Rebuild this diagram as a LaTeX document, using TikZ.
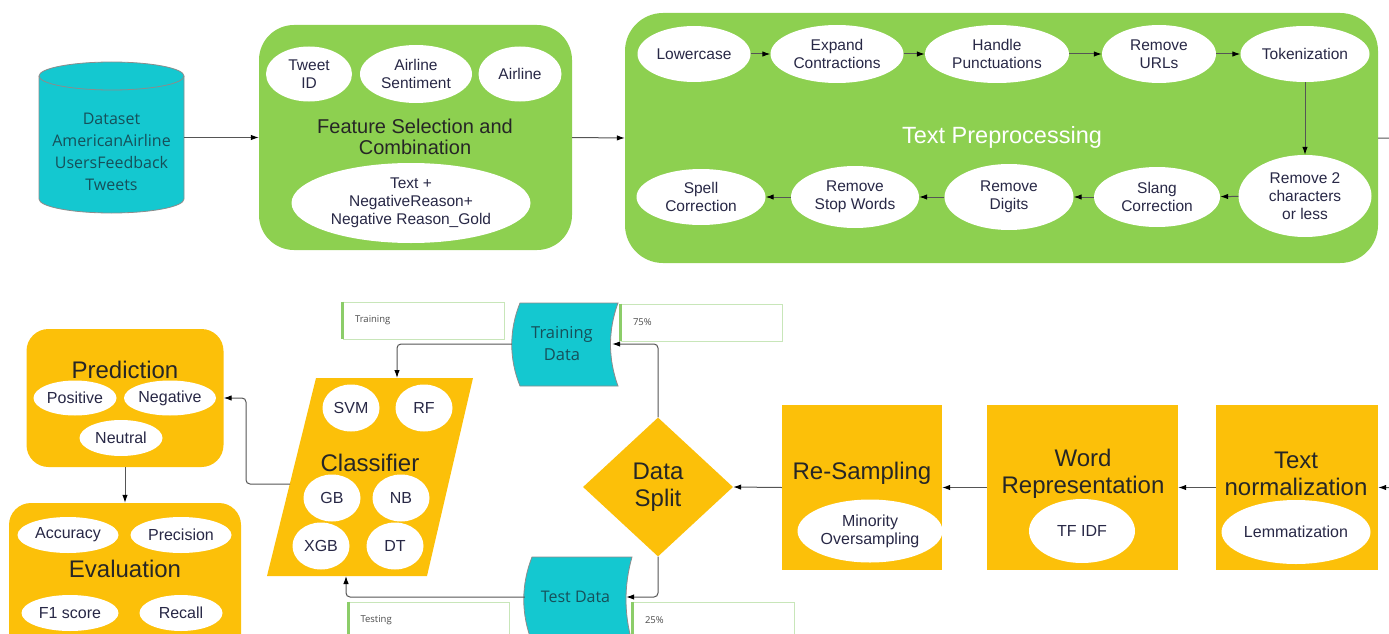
\documentclass[tikz,border=0pt]{standalone}
\usepackage{fontspec}
\setmainfont{Liberation Sans}
\newfontfamily\opensans{Open Sans}
\usetikzlibrary{shapes.geometric}
\usetikzlibrary{arrows.meta}
\definecolor{fgreen}{RGB}{141,208,80}
\definecolor{forange}{RGB}{252,192,9}
\definecolor{fcyan}{RGB}{20,200,208}
\definecolor{fteal}{RGB}{22,80,90}
\definecolor{fnavy}{RGB}{40,40,70}
\definecolor{fline}{RGB}{85,85,85}
\definecolor{fnote}{RGB}{200,230,185}
\definecolor{fbar}{RGB}{140,205,105}
\tikzset{
  oval/.style={ellipse, fill=white, inner sep=0pt, align=center, text=fnavy,
    font=\fontsize{15.5}{18}\selectfont},
  bigoval/.style={oval, font=\fontsize{16}{18}\selectfont},
  panel/.style={rounded corners=#1, inner sep=0pt},
  block/.style={fill=forange, inner sep=0pt, minimum height=165pt},
  title/.style={align=center, text=black!85, font=\fontsize{24}{27}\selectfont},
  dbtext/.style={align=center, text=fteal, inner sep=0pt, font=\opensans\fontsize{16}{22}\selectfont},
  dbline/.style={draw=black!45, line width=0.8pt},
  note/.style={draw=fnote, fill=white, line width=0.8pt, text width=137pt, inner xsep=12pt,
    minimum height=37pt, align=left, text=black!70, font=\opensans\fontsize{9.5}{11}\selectfont},
  notebar/.style={draw=fbar, line width=3pt},
  flow/.style={draw=fline, line width=1pt, rounded corners=4pt,
    -{Latex[length=8pt,width=5.5pt,color=black]}}
}

\begin{document}
\begin{tikzpicture}[x=1pt,y=-1pt]
  \useasboundingbox (0,0) rectangle (1389,634);

  \fill[fcyan] (39,76) -- (39,199) arc[start angle=180, end angle=0, x radius=72.5, y radius=14]
    -- (184,76) arc[start angle=0, end angle=-180, x radius=72.5, y radius=14] -- cycle;
  \draw[dbline] (39,76) -- (39,199) arc[start angle=180, end angle=0, x radius=72.5, y radius=14]
    -- (184,76) arc[start angle=0, end angle=-180, x radius=72.5, y radius=14];
  \draw[dbline] (39,76) arc[start angle=180, end angle=0, x radius=72.5, y radius=14];
  \node[minimum width=145pt, minimum height=151pt, inner sep=0pt] (data) at (111.5,137.5) {};
  \node[dbtext] (datalbl) at (111.5,151.5) {Dataset\\AmericanAirline\\UsersFeedback\\Tweets};

  \node[panel=35pt, fill=fgreen, minimum width=313pt, minimum height=225pt] (feat) at (415.5,137.5) {};
  \node[oval, minimum width=86pt, minimum height=55pt] (tweetid) at (309,74) {Tweet\\ID};
  \node[oval, minimum width=112pt, minimum height=58pt] (sentiment) at (416,74) {Airline\\Sentiment};
  \node[oval, minimum width=83pt, minimum height=55pt] (airline) at (520,74) {Airline};
  \node[align=center, text=black!85, font=\fontsize{20}{20.5}\selectfont] (feattitle) at (415,137)
    {Feature Selection and\\Combination};
  \node[oval, minimum width=239pt, minimum height=80pt] (combo) at (411,203)
    {Text +\\NegativeReason+\\Negative Reason\_Gold};

  \node[panel=38pt, fill=fgreen, minimum width=753pt, minimum height=250pt] (tp) at (1001.5,138) {};
  \node[text=white, font=\fontsize{23.5}{26}\selectfont] (tptitle) at (1002,137) {Text Preprocessing};
  \node[oval, minimum width=113pt, minimum height=56pt] (lower) at (694,54) {Lowercase};
  \node[oval, minimum width=133pt, minimum height=58pt] (expand) at (837,54) {Expand\\Contractions};
  \node[oval, minimum width=144pt, minimum height=58pt] (punct) at (997,54) {Handle\\Punctuations};
  \node[oval, minimum width=114pt, minimum height=58pt] (urls) at (1159,54) {Remove\\URLs};
  \node[oval, minimum width=129pt, minimum height=56pt] (token) at (1305,54) {Tokenization};
  \node[oval, minimum width=133pt, minimum height=82pt] (rem2) at (1305,196) {Remove 2\\characters\\or less};
  \node[oval, minimum width=126pt, minimum height=60pt] (slang) at (1157,197) {Slang\\Correction};
  \node[oval, minimum width=129pt, minimum height=66pt] (digits) at (1009,197) {Remove\\Digits};
  \node[oval, minimum width=128pt, minimum height=62pt] (stop) at (855,197) {Remove\\Stop Words};
  \node[oval, minimum width=129pt, minimum height=56pt] (spell) at (701,197) {Spell\\Correction};

  \node[block, minimum width=162pt] (norm) at (1297,487.5) {};
  \node[title] (normtitle) at (1296,473.5) {Text\\normalization};
  \node[bigoval, minimum width=149pt, minimum height=64pt] (lemma) at (1296,532) {Lemmatization};
  \node[block, minimum width=191pt] (word) at (1082.5,487.5) {};
  \node[title] (wordtitle) at (1083,473.5) {Word\\Representation};
  \node[bigoval, minimum width=106pt, minimum height=64pt] (tfidf) at (1082,531) {TF IDF};
  \node[block, minimum width=160pt] (resamp) at (862,487.5) {};
  \node[title] (resamptitle) at (862,473) {Re-Sampling};
  \node[bigoval, minimum width=145pt, minimum height=63pt] (minority) at (870,531) {Minority\\Oversampling};

  \node[diamond, fill=forange, aspect=1.08, inner sep=0pt, minimum width=150pt, minimum height=139pt,
    title] (split) at (658,487) {Data\\Split};

  \fill[fcyan] (520,303) -- (618,303) .. controls (608,330) and (608,359) .. (618,386)
    -- (520,386) .. controls (509,359) and (509,330) .. (520,303) -- cycle;
  \draw[dbline] (520,303) -- (618,303) .. controls (608,330) and (608,359) .. (618,386)
    -- (520,386) .. controls (509,359) and (509,330) .. (520,303) -- cycle;
  \node[dbtext, minimum width=100pt, minimum height=83pt, font=\opensans\fontsize{16.5}{22}\selectfont]
    (train) at (562,344) {Training\\Data};
  \fill[fcyan] (532,557) -- (632,557) .. controls (624,585) and (624,614) .. (632,642)
    -- (532,642) .. controls (521,614) and (521,585) .. (532,557) -- cycle;
  \draw[dbline] (532,557) -- (632,557) .. controls (624,585) and (624,614) .. (632,642)
    -- (532,642) .. controls (521,614) and (521,585) .. (532,557) -- cycle;
  \node[dbtext, minimum width=101pt, minimum height=40pt] (test) at (575.5,597) {Test Data};

  \node[note] (ntrain) at (423.5,320.5) {Training};
  \draw[notebar] (ntrain.north west) -- (ntrain.south west);
  \node[note] (n75) at (701.5,322.5) {75\%};
  \draw[notebar] (n75.north west) -- (n75.south west);
  \node[note] (ntest) at (429,620.5) {Testing};
  \draw[notebar] (ntest.north west) -- (ntest.south west);
  \node[note] (n25) at (713.5,620.5) {25\%};
  \draw[notebar] (n25.north west) -- (n25.south west);

  \fill[forange] (316,378) -- (473,378) -- (427,576) -- (267,576) -- cycle;
  \coordinate (clfin) at (397,378);
  \coordinate (clfout) at (290,484);
  \coordinate (clftest) at (346,576);
  \node[title] (clftitle) at (370,463) {Classifier};
  \node[bigoval, minimum width=57pt, minimum height=47pt] (svm) at (351,408) {SVM};
  \node[bigoval, minimum width=57pt, minimum height=47pt] (rf) at (424,408) {RF};
  \node[bigoval, minimum width=57pt, minimum height=47pt] (gb) at (332,498) {GB};
  \node[bigoval, minimum width=57pt, minimum height=47pt] (nb) at (401,498) {NB};
  \node[bigoval, minimum width=57pt, minimum height=47pt] (xgb) at (321,546) {XGB};
  \node[bigoval, minimum width=57pt, minimum height=47pt] (dt) at (395,546) {DT};

  \node[panel=22pt, fill=forange, minimum width=197pt, minimum height=138pt] (pred) at (125,398) {};
  \node[title] (predtitle) at (125,370) {Prediction};
  \node[bigoval, minimum width=83pt, minimum height=35pt] (pos) at (75,398) {Positive};
  \node[bigoval, minimum width=92pt, minimum height=35pt] (neg) at (170,398) {Negative};
  \node[bigoval, minimum width=83pt, minimum height=36pt] (neu) at (121,438) {Neutral};

  \node[panel=22pt, fill=forange, minimum width=232pt, minimum height=167pt] (eval) at (125,586.5) {};
  \node[title] (evaltitle) at (125,569) {Evaluation};
  \node[bigoval, minimum width=101pt, minimum height=36pt] (acc) at (68,535) {Accuracy};
  \node[bigoval, minimum width=101pt, minimum height=36pt] (prec) at (181,535) {Precision};
  \node[bigoval, minimum width=97pt, minimum height=36pt] (fone) at (70,613) {F1 score};
  \node[bigoval, minimum width=83pt, minimum height=36pt] (recall) at (181,613) {Recall};

  \draw[flow] (data.east) -- (feat.west);
  \draw[flow] (feat.east) -- (tp.west);
  \foreach \a/\b in {lower/expand, expand/punct, punct/urls, urls/token, token/rem2,
    rem2/slang, slang/digits, digits/stop, stop/spell}
    \draw[flow] (\a) -- (\b);
  \draw[flow] (tp.east) -- ++(30,0) |- (norm.east);
  \draw[flow] (norm.west) -- (word.east);
  \draw[flow] (word.west) -- (resamp.east);
  \draw[flow] (resamp.west) -- (split.east);
  \draw[flow] (split.north) |- (train.east);
  \draw[flow] (split.south) |- (test.east);
  \draw[flow] (train.west) -| (clfin);
  \draw[flow] (test.west) -| (clftest);
  \draw[flow] (clfout) -- ++(-44,0) |- (pred.east);
  \draw[flow] (pred.south) -- (eval.north);
\end{tikzpicture}
\end{document}
